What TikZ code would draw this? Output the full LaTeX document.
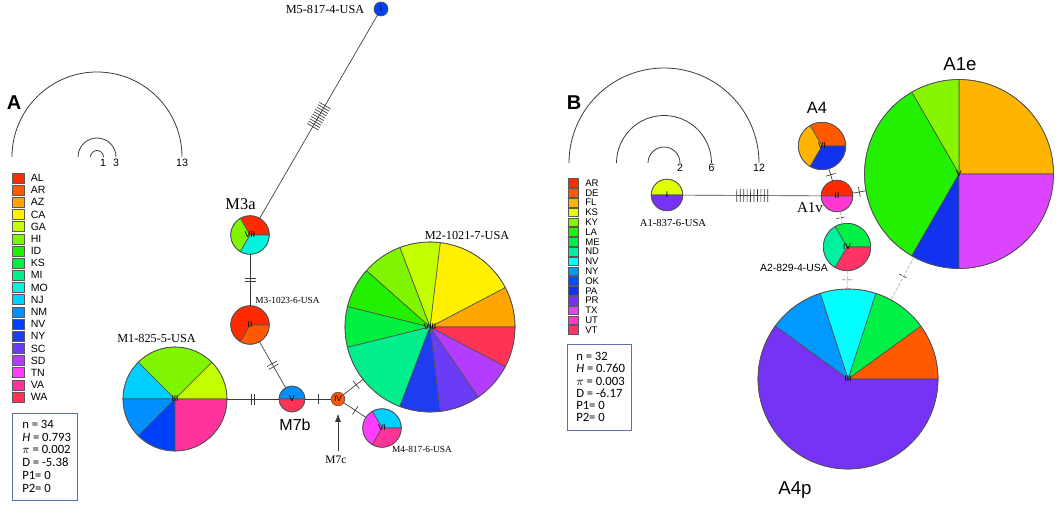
\documentclass[tikz,border=0pt]{standalone}
\usepackage{fontspec}
\setmainfont{Liberation Serif}
\setsansfont{Liberation Sans}
\newfontfamily\statfont{Carlito}
\usetikzlibrary{decorations.markings,arrows.meta,calc}
% panel A colours
\definecolor{cAL}{HTML}{FF2A00}\definecolor{cAR}{HTML}{FF5A00}\definecolor{cAZ}{HTML}{FFA500}
\definecolor{cCA}{HTML}{FFF000}\definecolor{cGA}{HTML}{C4FF00}\definecolor{cHI}{HTML}{80F500}
\definecolor{cID}{HTML}{22F000}\definecolor{cKS}{HTML}{00F040}\definecolor{cMI}{HTML}{00EE8C}
\definecolor{cMO}{HTML}{00F5DC}\definecolor{cNJ}{HTML}{00D0FF}\definecolor{cNM}{HTML}{0090FF}
\definecolor{cNV}{HTML}{0040FF}\definecolor{cNY}{HTML}{1E3CF0}\definecolor{cSC}{HTML}{6A3CF5}
\definecolor{cSD}{HTML}{B43CFF}\definecolor{cTN}{HTML}{FF3CFF}\definecolor{cVA}{HTML}{FF3399}
\definecolor{cWA}{HTML}{FF3355}
% panel B colours
\definecolor{bAR}{HTML}{FF2A00}\definecolor{bDE}{HTML}{FF5A00}\definecolor{bFL}{HTML}{FFB400}
\definecolor{bKS}{HTML}{E0FF00}\definecolor{bKY}{HTML}{88F500}\definecolor{bLA}{HTML}{22F000}
\definecolor{bME}{HTML}{00F048}\definecolor{bND}{HTML}{00F0A0}\definecolor{bNV}{HTML}{00FFFF}
\definecolor{bNY}{HTML}{0099FF}\definecolor{bOK}{HTML}{0050FF}\definecolor{bPA}{HTML}{1133F0}
\definecolor{bPR}{HTML}{7733F5}\definecolor{bTX}{HTML}{DD44FF}\definecolor{bUT}{HTML}{FF38D0}
\definecolor{bVT}{HTML}{FF3366}
\definecolor{edgec}{HTML}{3A3A3A}
\definecolor{piel}{HTML}{505050}
\definecolor{boxc}{HTML}{5E70A8}
\newcommand\hapie[6]{%
  \node[hapn, minimum size=#4*1.5pt] (#1) at (#2,-#3) {};
  \foreach \sa/\sb/\sc in {#5}{%
    \filldraw[fill=\sc, draw=piel, line width=0.45pt] (#1.center) -- ++(\sa:#4) arc[start angle=\sa, end angle=\sb, radius=#4] -- cycle;}
  \draw[draw=piel, line width=0.5pt] (#1.center) circle[radius=#4];
  \node[numl] (#1-n) at (#1.center) {#6};
}
\newcommand\hapone[6]{%
  \node[hapn, minimum size=#4*1.5pt] (#1) at (#2,-#3) {};
  \filldraw[fill=#5, draw=piel, line width=0.5pt] (#1.center) circle[radius=#4];
  \node[numl] (#1-n) at (#1.center) {#6};
}
\begin{document}
\begin{tikzpicture}[x=0.75pt,y=0.75pt,
  hapn/.style={circle, inner sep=0pt, outer sep=0pt},
  numl/.style={font=\sffamily\fontsize{6.3}{7}\selectfont, inner sep=0pt},
  edge/.style={draw=edgec, line width=0.5pt},
  gedge/.style={draw=gray!55, line width=0.6pt, dash pattern=on 2.5pt off 1.2pt},
  tickl/.style={draw=edgec, line width=0.5pt},
  tk/.style={postaction={decorate,decoration={markings,mark=at position #1 with {\draw[tickl] (0,-5) -- (0,5);}}}},
  tktwo/.style={postaction={decorate,decoration={markings,mark=at position #1 with {\draw[tickl] (-1.7,-5.5) -- (-1.7,5.5) (1.7,-5.5) -- (1.7,5.5);}}}},
  tkrun/.style n args={3}{postaction={decorate,decoration={markings,mark=between positions #1 and #2 step #3 with {\draw[tickl] (0,-6.5) -- (0,6.5);}}}},
  lbl/.style={font=\fontsize{9.2}{10}\selectfont, inner sep=0pt},
  lbls/.style={font=\fontsize{7}{8}\selectfont, inner sep=0pt},
  lblm/.style={font=\fontsize{12.3}{13}\selectfont, inner sep=0pt},
  lblsans/.style={font=\sffamily\fontsize{12}{13}\selectfont, inner sep=0pt},
  panel/.style={font=\sffamily\bfseries\fontsize{15}{16}\selectfont, inner sep=0pt},
  arcl/.style={draw=edgec, line width=0.6pt},
  arct/.style={font=\sffamily\fontsize{8}{9}\selectfont, inner sep=0pt},
  legsqA/.style={draw=gray!70!black, line width=0.4pt, minimum width=9pt, minimum height=7.5pt, inner sep=0pt},
  legsqB/.style={draw=gray!70!black, line width=0.4pt, minimum width=7.5pt, minimum height=6.4pt, inner sep=0pt},
  legtA/.style={font=\sffamily\fontsize{7.9}{8}\selectfont, inner sep=0pt, anchor=west},
  legtB/.style={font=\sffamily\fontsize{7.2}{7.4}\selectfont, inner sep=0pt, anchor=west},
  statbox/.style={draw=boxc, line width=1.1pt, anchor=north west, inner sep=0pt},
  stattxt/.style={anchor=west, align=left, inner sep=0pt, font=\statfont\fontsize{9.5}{9.6}\selectfont},
]
\useasboundingbox (0,0) rectangle (1059,-506);
% ================= PANEL A =================
\node[panel] (pA) at (14,-103) {A};
\draw[arcl] (12,-157) arc[start angle=180, end angle=0, radius=85];
\draw[arcl] (78,-157) arc[start angle=180, end angle=0, radius=19];
\draw[arcl] (90.5,-157) arc[start angle=180, end angle=0, radius=6.5];
\node[arct] (aA1) at (103,-163) {1};
\node[arct] (aA3) at (116,-163) {3};
\node[arct] (aA13) at (182,-163) {13};
\foreach \t [count=\i from 0] in {AL,AR,AZ,CA,GA,HI,ID,KS,MI,MO,NJ,NM,NV,NY,SC,SD,TN,VA,WA}{
  \node[legsqA, fill=c\t] (lgA\i) at (18,{-178-12.17*\i}) {};
  \node[legtA] (lgAt\i) at (30.5,{-178-12.17*\i}) {\t};
}
\node[statbox, minimum width=48.75pt, minimum height=65.25pt] (stA) at (12,-413) {};
\node[stattxt] (stAt) at ([xshift=7.5pt,yshift=0.8pt]stA.west)
  {n = 34\\\textit{H} = 0.793\\$\pi$ = 0.002\\D = -5.38\\P1= 0\\P2= 0};
% haplotypes
\hapie{VIII}{430}{327}{85}{0/27.69/cAZ,27.69/83.08/cCA,83.08/110.77/cGA,110.77/138.46/cHI,138.46/166.15/cID,166.15/193.85/cKS,193.85/249.23/cMI,249.23/276.92/cNY,276.92/304.62/cSC,304.62/332.31/cSD,332.31/360/cWA}{VIII}
\hapie{III}{175}{399}{52}{0/45/cGA,45/135/cHI,135/180/cNJ,180/225/cNM,225/270/cNV,270/360/cVA}{III}
\hapie{VII}{250}{235}{19.3}{0/120/cAL,120/240/cHI,240/360/cMO}{VII}
\hapie{II}{250}{325}{19.3}{0/240/cAL,240/360/cAR}{II}
\hapie{V}{292}{399}{13}{0/180/cNM,180/360/cWA}{V}
\hapone{IV}{338}{399}{6.8}{cAR}{IV}
\hapie{VI}{382}{428}{19.3}{0/120/cNJ,120/240/cTN,240/360/cVA}{VI}
\hapone{I}{381}{9}{7}{cNV}{I}
% connectors A
\draw[edge, tkrun={78.5pt}{97pt}{2.03pt}] (I) -- (VII);
\draw[edge, tktwo=0.5] (VII) -- (II);
\draw[edge, tktwo=0.51] (II) -- (V);
\draw[edge, tktwo=0.5] (III) -- (V);
\draw[edge, tk=0.5] (V) -- (IV);
\draw[edge, tk=0.65] (IV) -- (VIII);
\draw[edge, tk=0.52] (IV) -- (VI);
% labels A
\node[lbl] (lM2) at (467,-235) {M2-1021-7-USA};
\node[lbl] (lM1) at (156.5,-338) {M1-825-5-USA};
\node[lbl] (lM5) at (325,-9) {M5-817-4-USA};
\node[lbls] (lM3) at (287.5,-300) {M3-1023-6-USA};
\node[lbls] (lM4) at (422,-449) {M4-817-6-USA};
\node[lblm] (lM3a) at (240.5,-204) {M3a};
\node[lblsans] (lM7b) at (295,-425) {M7b};
\node[font=\fontsize{8.6}{9}\selectfont, inner sep=0pt] (lM7c) at (336,-460) {M7c};
\draw[edge, line width=0.6pt, -{Latex[length=6pt,width=4.5pt]}, shorten >=6pt, shorten <=4pt] (lM7c.north -| IV.south) -- (IV.south);
% ================= PANEL B =================
\node[panel] (pB) at (574,-103) {B};
\draw[arcl] (569,-163) arc[start angle=180, end angle=0, radius=95];
\draw[arcl] (616.5,-163) arc[start angle=180, end angle=0, radius=47.5];
\draw[arcl] (648,-163) arc[start angle=180, end angle=0, radius=16];
\node[arct] (aB2) at (680,-168) {2};
\node[arct] (aB6) at (711.5,-168) {6};
\node[arct] (aB12) at (759,-168) {12};
\foreach \t [count=\i from 0] in {AR,DE,FL,KS,KY,LA,ME,ND,NV,NY,OK,PA,PR,TX,UT,VT}{
  \node[legsqB, fill=b\t] (lgB\i) at (573,{-183-9.8*\i}) {};
  \node[legtB] (lgBt\i) at (585,{-183-9.8*\i}) {\t};
}
\node[statbox, minimum width=48pt, minimum height=64.5pt] (stB) at (567,-344) {};
\node[stattxt, font=\statfont\fontsize{9.5}{9.15}\selectfont] (stBt) at ([xshift=6.75pt,yshift=0.4pt]stB.west)
  {n = 32\\\textit{H} = 0.760\\$\pi$ = 0.003\\D = -6.17\\P1= 0\\P2= 0};
\hapie{BI}{667}{195}{15.8}{0/180/bKS,180/360/bPR}{I}
\hapie{BII}{837}{196}{15.8}{0/180/bAR,180/360/bUT}{II}
\hapie{BVI}{822}{146}{23.7}{0/120/bDE,120/240/bFL,240/360/bPA}{VI}
\hapie{BV}{959}{174}{94.5}{0/90/bFL,90/120/bKY,120/240/bLA,240/270/bPA,270/360/bTX}{V}
\hapie{BIV}{847}{247}{23.7}{0/120/bME,120/240/bND,240/360/bVT}{IV}
\hapie{BIII}{848}{379}{90}{0/36/bDE,36/72/bME,72/108/bNV,108/144/bNY,144/360/bPR}{III}
% connectors B
\draw[edge, tkrun={40.5pt}{64pt}{2.58pt}] (BI) -- (BII);
\draw[edge, tk=0.5] (BVI) -- (BII);
\draw[edge, tk=0.5] (BII) -- (BV);
\draw[gedge, tk=0.5] (BII) -- (BIV);
\draw[gedge, tk=0.5] (BIV) -- (BIII);
\draw[gedge, tk=0.45] (BV) -- (BIII);
% labels B
\node[font=\fontsize{8}{9}\selectfont, inner sep=0pt] (lA1) at (673,-223) {A1-837-6-USA};
\node[font=\sffamily\fontsize{7.8}{9}\selectfont, inner sep=0pt, anchor=east] (lA2) at (828,-268) {A2-829-4-USA};
\node[font=\fontsize{11.3}{12}\selectfont, inner sep=0pt] (lA1v) at (810,-208) {A1v};
\node[lblsans, font=\sffamily\fontsize{12.3}{13}\selectfont] (lA4) at (817,-108) {A4};
\node[lblsans, font=\sffamily\fontsize{14}{15}\selectfont] (lA1e) at (960,-64) {A1e};
\node[lblsans, font=\sffamily\fontsize{14}{15}\selectfont] (lA4p) at (795,-490) {A4p};
\end{tikzpicture}
\end{document}
